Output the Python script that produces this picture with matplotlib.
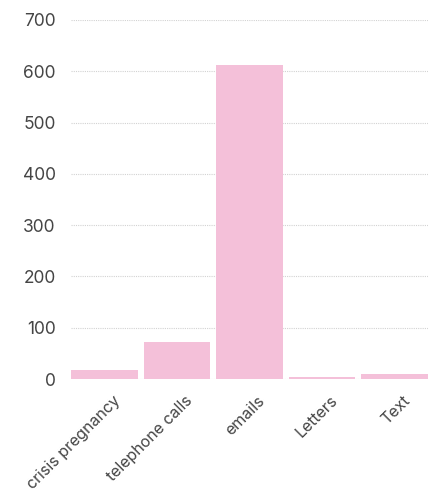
import numpy as np
import matplotlib
matplotlib.use('Agg')
import matplotlib.pyplot as plt
import matplotlib.transforms as mtransforms

# ── Data ──────────────────────────────────────────────────────────
categories = ['crisis pregnancy', 'telephone calls', 'emails', 'Letters', 'Text']
values = [17, 72, 612, 3, 9]
yticks = [0, 100, 200, 300, 400, 500, 600, 700]

C_BAR = '#f4c0d9'; C_TEXT = '#454545'; C_GRID = '#d2d2d2'

plt.rcParams['font.family'] = ['Inter', 'DejaVu Sans']

fig = plt.figure(figsize=(4.28, 4.97), dpi=100, facecolor='white')
ax = fig.add_axes([71/428, 1 - 379/497, 1 - 71/428, (379 - 20)/497])

x = np.arange(len(categories))
ax.bar(x, values, width=0.92, color=C_BAR, zorder=2)

ax.set_ylim(0, 700)
ax.set_xlim(-0.46, 4.46)
ax.set_yticks(yticks)
ax.set_xticks(x)
ax.set_xticklabels(categories, rotation=45, ha='right', rotation_mode='anchor')
ax.tick_params(axis='both', length=0, colors=C_TEXT)
ax.tick_params(axis='y', pad=11, labelsize=12.5)
ax.tick_params(axis='x', pad=10, labelsize=11.5)

# shift x labels right a bit, like the reference
shift = mtransforms.ScaledTranslation(8/100, 0, fig.dpi_scale_trans)
for lbl in ax.get_xticklabels():
    lbl.set_transform(lbl.get_transform() + shift)

ax.grid(axis='y', color=C_GRID, ls=(0, (1, 1)), lw=0.8, zorder=0)
for sp in ax.spines.values():
    sp.set_visible(False)

fig.savefig('out.png', dpi=100, facecolor='white')
